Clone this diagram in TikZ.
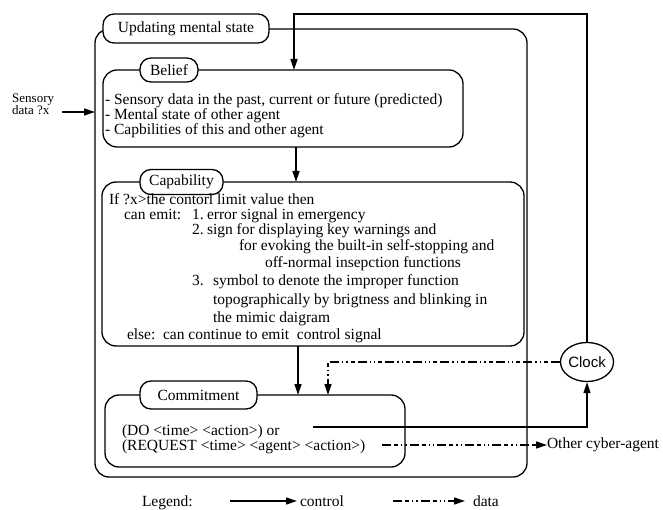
\documentclass[tikz,border=0pt]{standalone}
\usepackage{fontspec}
\setmainfont{Liberation Serif}
\newfontfamily\clockfont{Liberation Sans}
\usetikzlibrary{arrows.meta,shapes.geometric}
\tikzset{
  bigbox/.style={draw, line width=1.3pt, rounded corners=14pt, inner sep=0pt, outer sep=0pt},
  tagbox/.style={draw, line width=1.3pt, fill=white, rounded corners=11pt, inner sep=0pt, outer sep=0pt,
     font=\fontsize{15.5}{17}\selectfont},
  txt/.style={anchor=base west, inner sep=0pt, outer sep=0pt, font=\fontsize{15.5}{17}\selectfont},
  ctrl/.style={line width=1.3pt, -{Triangle[length=11pt,width=7pt]}},
  datal/.style={line width=1.3pt, dash pattern=on 9pt off 3pt on 4pt off 3pt on 1.3pt off 3pt on 1.3pt off 3pt,
     -{Triangle[length=11pt,width=7pt]}},
}
\begin{document}
\begin{tikzpicture}[x=1pt,y=-1pt]
\useasboundingbox (0,0) rectangle (663,510);

% boxes
\node[bigbox, minimum width=432pt, minimum height=448pt] (outer) at (311,253) {};
\node[bigbox, minimum width=360pt, minimum height=77pt] (belief) at (283,108.5) {};
\node[bigbox, minimum width=422pt, minimum height=164pt] (capab) at (313,264) {};
\node[bigbox, minimum width=300pt, minimum height=72pt] (commit) at (255,431) {};

% tags
\node[tagbox, minimum width=166pt, minimum height=29pt] (upd) at (186,28.5) {Updating mental state};
\node[tagbox, minimum width=58pt, minimum height=24pt] (beliefT) at (169,70) {Belief};
\node[tagbox, minimum width=83pt, minimum height=25pt] (capT) at (181.5,182) {Capability};
\node[tagbox, minimum width=117pt, minimum height=28pt] (comT) at (198.5,395) {Commitment};

% belief text
\node[txt] (b1) at (105,105) {- Sensory data in the past, current or future (predicted)};
\node[txt] (b2) at (105,120) {- Mental state of other agent};
\node[txt] (b3) at (105,135) {- Capbilities of this and other agent};

% capability text
\node[txt] (c1) at (109,204.5) {If ?x>the contorl limit value then};
\node[txt] (c2a) at (124,220) {can emit:};
\node[txt] (c2b) at (192,220) {1.};
\node[txt] (c2c) at (207,220) {error signal in emergency};
\node[txt] (c3b) at (192,235) {2.};
\node[txt] (c3c) at (207,235) {sign for displaying key warnings and};
\node[txt] (c4) at (239,251) {for evoking the built-in self-stopping and};
\node[txt] (c5) at (265,268) {off-normal insepction functions};
\node[txt] (c6b) at (192,286) {3.};
\node[txt] (c6c) at (213,286) {symbol to denote the improper function};
\node[txt] (c7) at (213,304) {topographically by brigtness and blinking in};
\node[txt] (c8) at (213,322) {the mimic daigram};
\node[txt] (c9a) at (127,339) {else:};
\node[txt] (c9b) at (163,339) {can continue to emit\ \ control signal};

% commitment text
\node[txt] (d1) at (122,435) {(DO <time> <action>) or};
\node[txt] (d2) at (122,450) {(REQUEST <time> <agent> <action>)};

% clock
\node[draw, ellipse, line width=1.3pt, minimum width=52pt, minimum height=39pt, inner sep=0pt,
      font=\clockfont\fontsize{15}{17}\selectfont] (clock) at (587,362) {Clock};

% sensory
\node[anchor=north west, align=left, inner sep=0pt, font=\fontsize{13}{12}\selectfont] (sensory) at (12,94) {Sensory\\data ?x};
\coordinate (sensstart) at (62,112);
\draw[ctrl] (sensstart) -- (sensstart -| outer.west);

% feedback clock -> belief
\coordinate (fb) at (294,14);
\draw[ctrl] (clock.north) -- (clock.north |- fb) -- (fb) -- (fb |- belief.north);

% belief -> capability -> commitment
\coordinate (ax) at (296,0);
\draw[ctrl] (belief.south -| ax) -- (capab.north -| ax);
\coordinate (bx) at (298,0);
\draw[ctrl] (capab.south -| bx) -- (commit.north -| bx);

% clock -> commitment (data)
\coordinate (cx) at (328,0);
\draw[datal] (clock.west) -- (clock.west -| cx) -- (commit.north -| cx);

% commitment -> clock (control)
\coordinate (dostart) at (313,427);
\draw[ctrl] (dostart) -| (clock.south);

% commitment -> other agent (data)
\node[txt, anchor=west] (other) at (547,445) {Other cyber-agent};
\coordinate (reqend) at (382,445);
\draw[datal] (reqend) -- (other.west);

% legend
\node[txt] (legend) at (142,506) {Legend:};
\node[txt] (lctrl) at (300,506) {control};
\node[txt] (ldata) at (473,506) {data};
\coordinate (lc) at (230,501);
\coordinate (ld) at (393,501);
\draw[ctrl, shorten >=3pt] (lc) -- (lc -| lctrl.west);
\draw[datal, shorten >=8pt] (ld) -- (ld -| ldata.west);
\end{tikzpicture}
\end{document}
